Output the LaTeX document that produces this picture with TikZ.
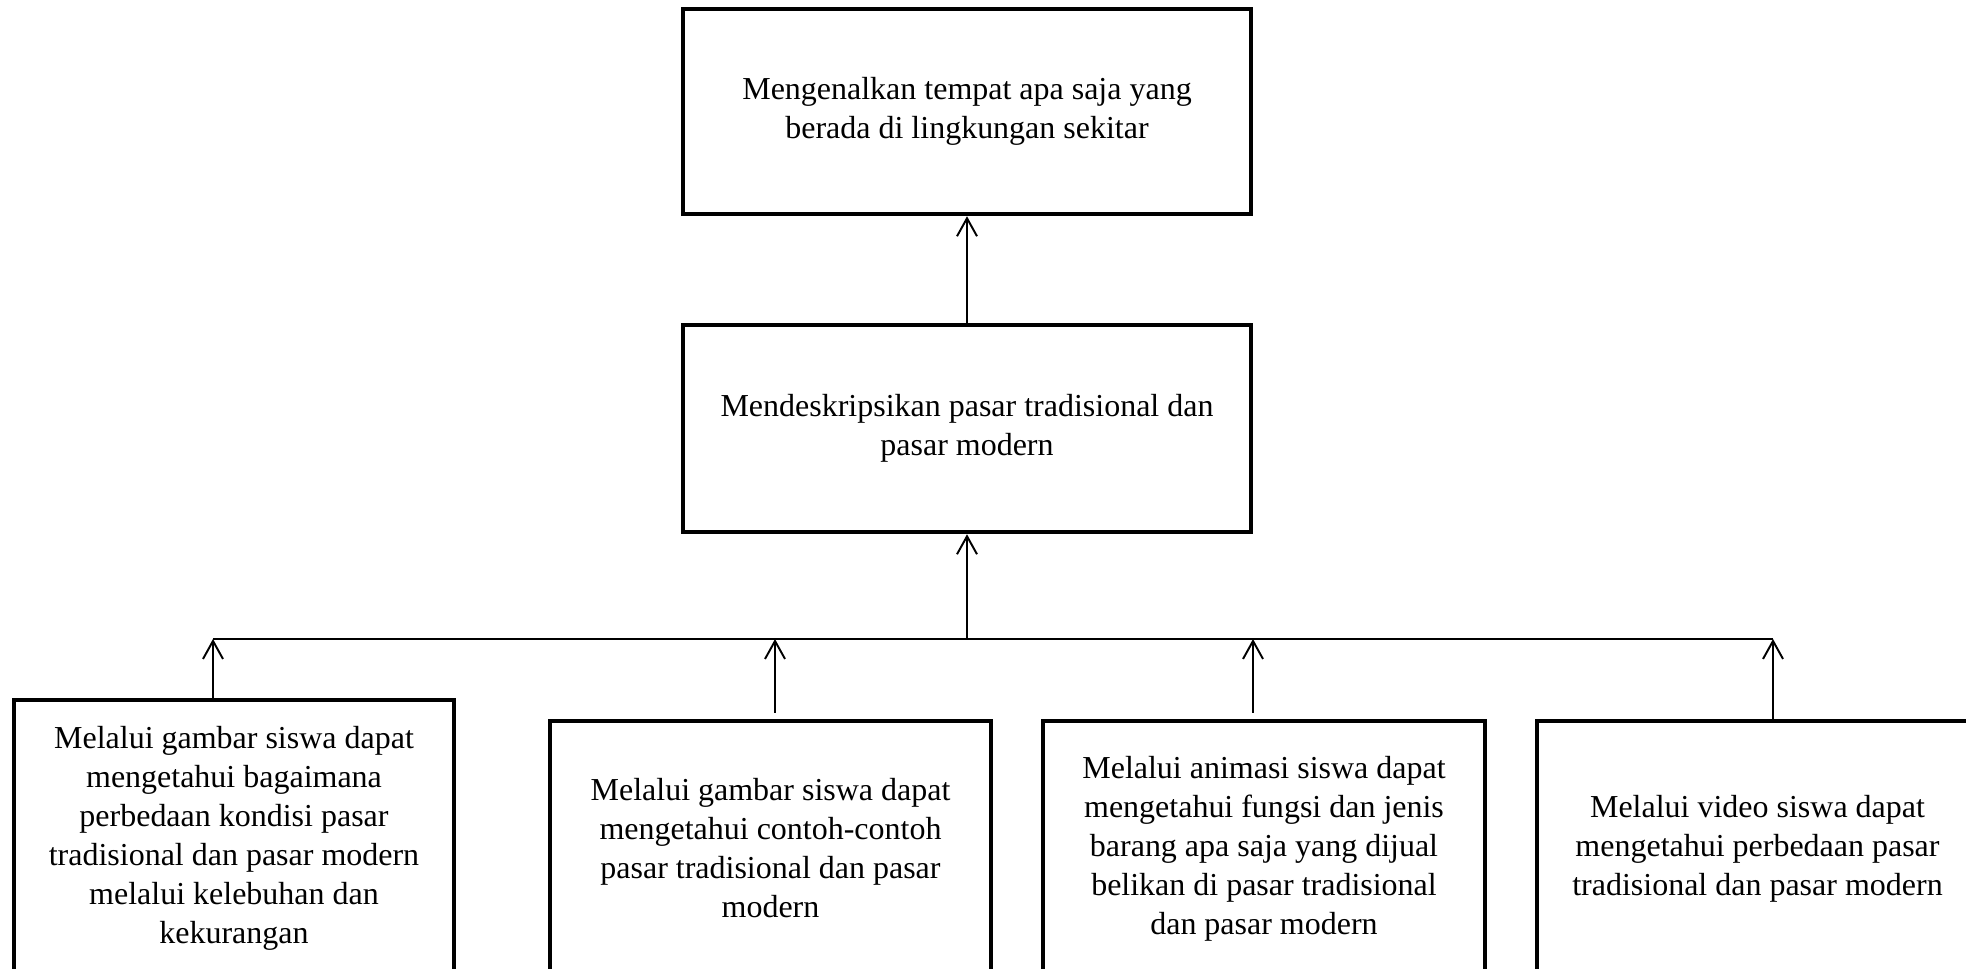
\documentclass[tikz,border=0pt]{standalone}
\usepackage{fontspec}
\setmainfont{Liberation Serif}
\usepackage{tikz}
\usetikzlibrary{
  arrows.meta,
  calc,
  positioning}

\begin{document}
\begin{tikzpicture}[
    kotak/.style={draw,rectangle,line width=2.6pt,align=center,inner sep=0pt,
      font=\fontsize{18.2}{22.2}\selectfont},
    garis/.style={line width=1.1pt},
    panah/.style={garis,-{Straight Barb[length=0.36cm,width=0.40cm]}}]
    \useasboundingbox (0,0) rectangle (39.32,19.38);
    \node[kotak,minimum width=11.36cm,minimum height=4.10cm] (tujuan) at (19.34,17.15)
        {Mengenalkan tempat apa saja yang\\berada di lingkungan sekitar};
    \node[kotak,minimum width=11.36cm,minimum height=4.14cm] (materi) at (19.34,10.81)
        {Mendeskripsikan pasar tradisional dan\\pasar modern};
    \node[kotak,minimum width=8.80cm,minimum height=5.52cm] (cara1) at (4.68,2.62)
        {Melalui gambar siswa dapat\\mengetahui bagaimana\\perbedaan kondisi pasar\\tradisional dan pasar modern\\melalui kelebuhan dan\\kekurangan};
    \node[kotak,minimum width=8.82cm,minimum height=5.10cm] (cara2) at (15.41,2.41)
        {Melalui gambar siswa dapat\\mengetahui contoh-contoh\\pasar tradisional dan pasar\\modern};
    \node[kotak,minimum width=8.84cm,minimum height=5.10cm] (cara3) at (25.28,2.41)
        {Melalui animasi siswa dapat\\mengetahui fungsi dan jenis\\barang apa saja yang dijual\\belikan di pasar tradisional\\dan pasar modern};
    \node[kotak,minimum width=8.82cm,minimum height=5.10cm] (cara4) at (35.15,2.41)
        {Melalui video siswa dapat\\mengetahui perbedaan pasar\\tradisional dan pasar modern};
    % titik pada garis penghubung
    \coordinate (t1) at (4.26,6.60);
    \coordinate (t2) at (15.50,6.60);
    \coordinate (t3) at (25.06,6.60);
    \coordinate (t4) at (35.46,6.60);
    \draw[garis] (t1) -- (t4);
    \draw[panah] (t1 -| materi.south) -- (materi.south);
    \draw[panah] (materi.north) -- (tujuan.south);
    \draw[panah] (t1 |- cara1.north) -- (t1);
    \draw[panah,shorten <=3.4pt] (t2 |- cara2.north) -- (t2);
    \draw[panah,shorten <=3.4pt] (t3 |- cara3.north) -- (t3);
    \draw[panah] (t4 |- cara4.north) -- (t4);
\end{tikzpicture}
\end{document}
